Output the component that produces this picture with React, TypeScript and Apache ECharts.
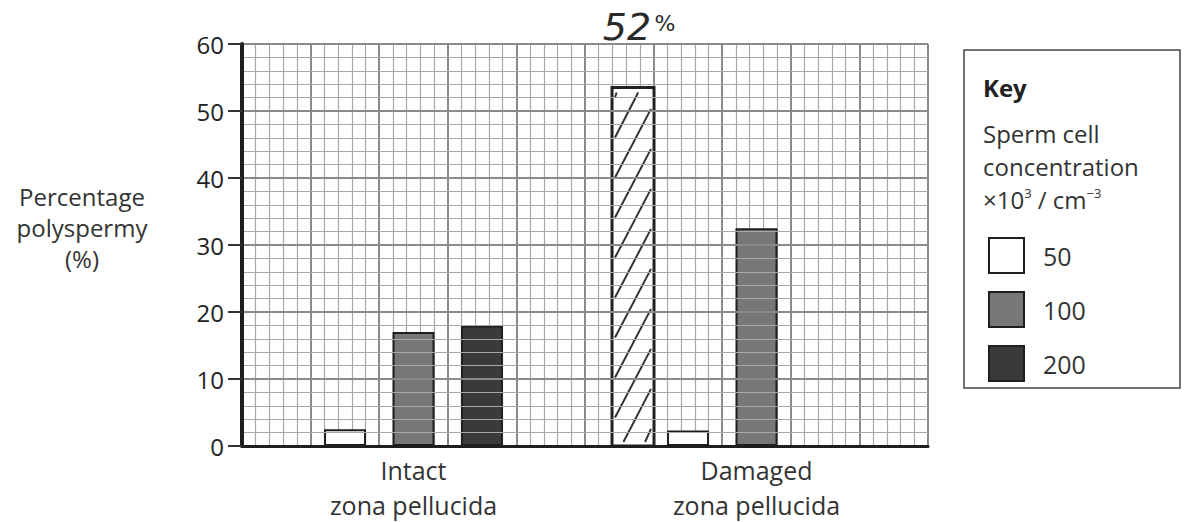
import React, { useEffect, useRef } from "react";
import * as echarts from "echarts";

const categories = ["Intact\nzona pellucida", "Damaged\nzona pellucida"];
const seriesNames = ["50", "100", "200"];
const conc50 = [2.5, 2.3];
const conc100 = [17, 32.5];
const conc200: (number | null)[] = [18, null];
// hand-drawn hatched bar added on the damaged group
const handDrawn: [number, number][] = [[1, 53.5]];
const handNote = "52";
const handNoteSuffix = "%";
const yTicks = { min: 0, max: 60, interval: 10 };
const yAxisTitle = ["Percentage", "polyspermy", "(%)"];
const keyTitle = "Key";
const keyLines = ["Sperm cell", "concentration"];

const FONT = "'Open Sans', 'Noto Sans', sans-serif";

export default function App() {
  const ref = useRef<HTMLDivElement>(null);
  useEffect(() => {
    if (!ref.current) return;
    const chart = echarts.init(ref.current, undefined, { renderer: "svg" });
    const barBorder = { borderColor: "#1e1e1e", borderWidth: 2 };
    const option: any = {
      animation: false,
      backgroundColor: "#ffffff",
      textStyle: { fontFamily: FONT },
      grid: { left: 242, right: 256, top: 44, bottom: 73, containLabel: false },
      xAxis: [
        {
          type: "category",
          data: categories,
          axisLine: { show: true, lineStyle: { color: "#1e1e1e", width: 3 } },
          axisTick: { show: false },
          splitLine: { show: false },
          axisLabel: {
            fontSize: 25,
            color: "#333",
            lineHeight: 35,
            margin: 6,
            fontFamily: FONT,
          },
          z: 5,
        },
        {
          type: "value",
          min: 0,
          max: 10,
          interval: 1,
          position: "bottom",
          axisLine: { show: false },
          axisTick: { show: false },
          axisLabel: { show: false },
          splitLine: { show: true, lineStyle: { color: "#8a8a8a", width: 2 } },
          minorTick: { show: false, splitNumber: 5 },
          minorSplitLine: { show: true, lineStyle: { color: "#a8a8a8", width: 1.2 } },
        },
      ],
      yAxis: {
        type: "value",
        min: yTicks.min,
        max: yTicks.max,
        interval: yTicks.interval,
        axisLine: { show: true, lineStyle: { color: "#1e1e1e", width: 4 } },
        axisTick: { show: true, length: 14, lineStyle: { color: "#333", width: 2 } },
        axisLabel: { fontSize: 24, color: "#222", margin: 18, fontFamily: FONT },
        splitLine: { show: true, lineStyle: { color: "#8a8a8a", width: 2 } },
        minorTick: { show: false, splitNumber: 5 },
        minorSplitLine: { show: true, lineStyle: { color: "#a8a8a8", width: 1.2 } },
        z: 5,
      },
      legend: {
        data: seriesNames,
        orient: "vertical",
        left: 983,
        top: 232,
        itemWidth: 35,
        itemHeight: 35,
        itemGap: 17,
        icon: "rect",
        textStyle: { fontSize: 25, color: "#333", fontFamily: FONT, padding: [0, 0, 0, 14] },
      },
      series: [
        {
          name: seriesNames[0],
          type: "bar",
          data: conc50,
          barWidth: 42,
          barGap: "63%",
          itemStyle: { color: "#ffffff", ...barBorder },
          z: 3,
        },
        {
          name: seriesNames[1],
          type: "bar",
          data: conc100,
          barWidth: 42,
          barGap: "63%",
          itemStyle: { color: "#777777", ...barBorder },
          z: 3,
        },
        {
          name: seriesNames[2],
          type: "bar",
          data: conc200,
          barWidth: 42,
          barGap: "63%",
          itemStyle: { color: "#3a3a3a", ...barBorder },
          z: 3,
        },
        {
          name: "hand",
          type: "custom",
          data: handDrawn,
          z: 4,
          renderItem: (params: any, api: any) => {
            const top = api.coord([api.value(0), api.value(1)]);
            const base = api.coord([api.value(0), 0]);
            const catW = api.size([1, 0])[0];
            const w = 42;
            const cx = top[0] - catW * 0.36;
            const x0 = cx - w / 2;
            const x1 = cx + w / 2;
            const yT = top[1];
            const yB = base[1];
            const slope = 1.85;
            const children: any[] = [
              {
                type: "rect",
                shape: { x: x0, y: yT, width: w, height: yB - yT },
                style: { fill: "#ffffff", stroke: "#222", lineWidth: 3 },
              },
            ];
            for (let c = yT + 14; c < yB + slope * w; c += 40) {
              let sx = x0;
              let sy = c;
              if (sy > yB) {
                sx = x0 + (sy - yB) / slope;
                sy = yB;
              }
              let ex = x1;
              let ey = c - slope * w;
              if (ey < yT) {
                ex = x0 + (c - yT) / slope;
                ey = yT;
              }
              if (ex - sx < 2) continue;
              children.push({
                type: "line",
                shape: { x1: sx + 3, y1: sy - 4, x2: ex - 3, y2: ey + 5 },
                style: { stroke: "#333", lineWidth: 2 },
              });
            }
            children.push({
              type: "text",
              style: {
                text: "{n|" + handNote + "} {p|" + handNoteSuffix + "}",
                x: cx + 6,
                y: params.coordSys.y - 17,
                align: "center",
                verticalAlign: "middle",
                rich: {
                  n: { fontSize: 38, fontFamily: "'DejaVu Sans', sans-serif", fill: "#2a2a2a", fontStyle: "italic" },
                  p: { fontSize: 22, fontFamily: "'DejaVu Sans', sans-serif", fill: "#2a2a2a", padding: [0, 0, 8, 0] },
                },
              },
            });
            return { type: "group", children };
          },
        },
      ],
      graphic: [
        ...yAxisTitle.map((t, i) => ({
          type: "text",
          style: {
            text: t,
            x: 82,
            y: 196 + i * 31,
            align: "center",
            verticalAlign: "middle",
            fontSize: 24,
            fill: "#333",
            fontFamily: FONT,
          },
        })),
        {
          type: "rect",
          shape: { x: 964, y: 50, width: 216, height: 338 },
          style: { fill: "none", stroke: "#444", lineWidth: 1.5 },
        },
        {
          type: "text",
          style: {
            text: keyTitle,
            x: 983,
            y: 87,
            verticalAlign: "middle",
            fontSize: 24,
            fontWeight: "bold",
            fill: "#222",
            fontFamily: FONT,
          },
        },
        ...keyLines.map((t, i) => ({
          type: "text",
          style: {
            text: t,
            x: 983,
            y: 133 + i * 33,
            verticalAlign: "middle",
            fontSize: 24,
            fill: "#333",
            fontFamily: FONT,
          },
        })),
        {
          type: "text",
          style: {
            text: "×10{sup|3} / cm{sup|−3}",
            x: 983,
            y: 199,
            verticalAlign: "middle",
            fontSize: 24,
            fill: "#333",
            fontFamily: FONT,
            rich: {
              sup: { fontSize: 13, verticalAlign: "top", padding: [0, 0, 12, 0], fill: "#333", fontFamily: FONT },
            },
          },
        },
      ],
    };
    chart.setOption(option);
    return () => chart.dispose();
  }, []);
  return <div ref={ref} style={{ width: 1184, height: 522, position: "absolute", left: 0, top: 0 }} />;
}
